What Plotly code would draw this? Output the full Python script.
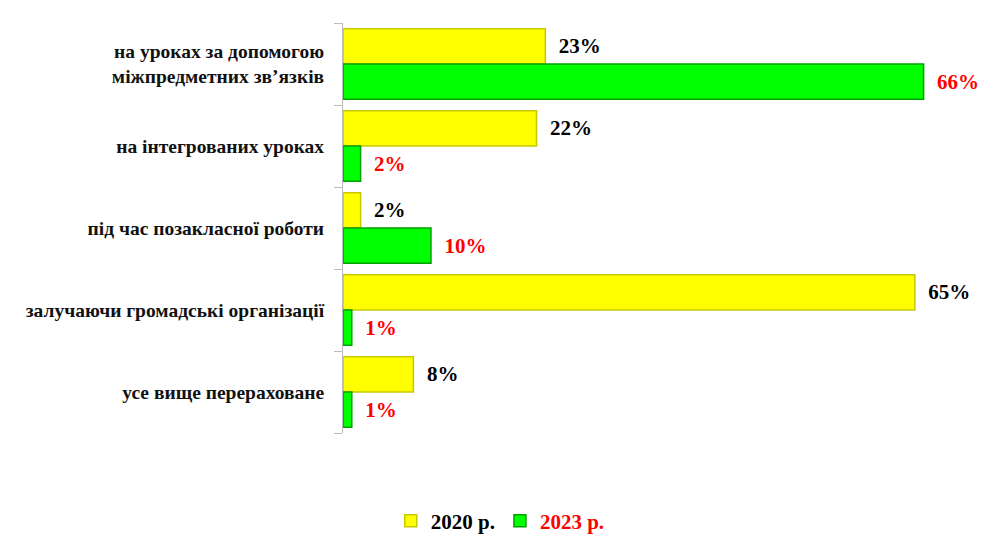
import plotly.graph_objects as go

categories = [
    "на уроках за допомогою<br>міжпредметних зв’язків",
    "на інтегрованих уроках",
    "під час позакласної роботи",
    "залучаючи громадські організації",
    "усе вище перераховане",
]
values_2020 = [23, 22, 2, 65, 8]
values_2023 = [66, 2, 10, 1, 1]
series_names = ["2020 р.", "2023 р."]

font_family = "Liberation Serif"

fig = go.Figure()
fig.add_trace(go.Bar(
    y=categories, x=values_2020, orientation="h",
    name="<b>" + series_names[0] + "</b>",
    marker=dict(color="#FFFF00", line=dict(color="#C8C800", width=1.5)),
    text=[f"&nbsp;&nbsp;<b>{v}%</b>" for v in values_2020], textposition="outside",
    textfont=dict(family=font_family, size=21, color="black"),
    cliponaxis=False,
))
fig.add_trace(go.Bar(
    y=categories, x=values_2023, orientation="h",
    name="<b><span style='color:red'>" + series_names[1] + "</span></b>",
    marker=dict(color="#00FF00", line=dict(color="#00A000", width=1.5)),
    text=[f"&nbsp;&nbsp;<b>{v}%</b>" for v in values_2023], textposition="outside",
    textfont=dict(family=font_family, size=21, color="red"),
    cliponaxis=False,
))

fig.update_layout(
    width=994, height=537,
    barmode="group", bargap=0.14, bargroupgap=0.0,
    plot_bgcolor="white", paper_bgcolor="white",
    margin=dict(l=335, r=30, t=15, b=112, autoexpand=False),
    font=dict(family=font_family, size=19.5, color="#111111"),
    showlegend=True,
    legend=dict(orientation="h", x=0.25, xanchor="center",
                y=-0.215, yanchor="middle",
                font=dict(family=font_family, size=21, color="black"),
                itemwidth=30, traceorder="normal"),
    xaxis=dict(range=[0, 71.5], visible=False, showgrid=False, zeroline=False),
    yaxis=dict(autorange="reversed", showline=True, linecolor="#BBBBBB", linewidth=1,
               ticks="outside", tickson="boundaries", tickcolor="#BBBBBB", ticklen=8,
               tickfont=dict(family=font_family, size=19.5, color="#111111"),
               showgrid=False, ticklabelstandoff=14, automargin=False,
               tickvals=categories, ticktext=["<b>" + c + "</b>" for c in categories]),
)

fig.write_html("out.html")
